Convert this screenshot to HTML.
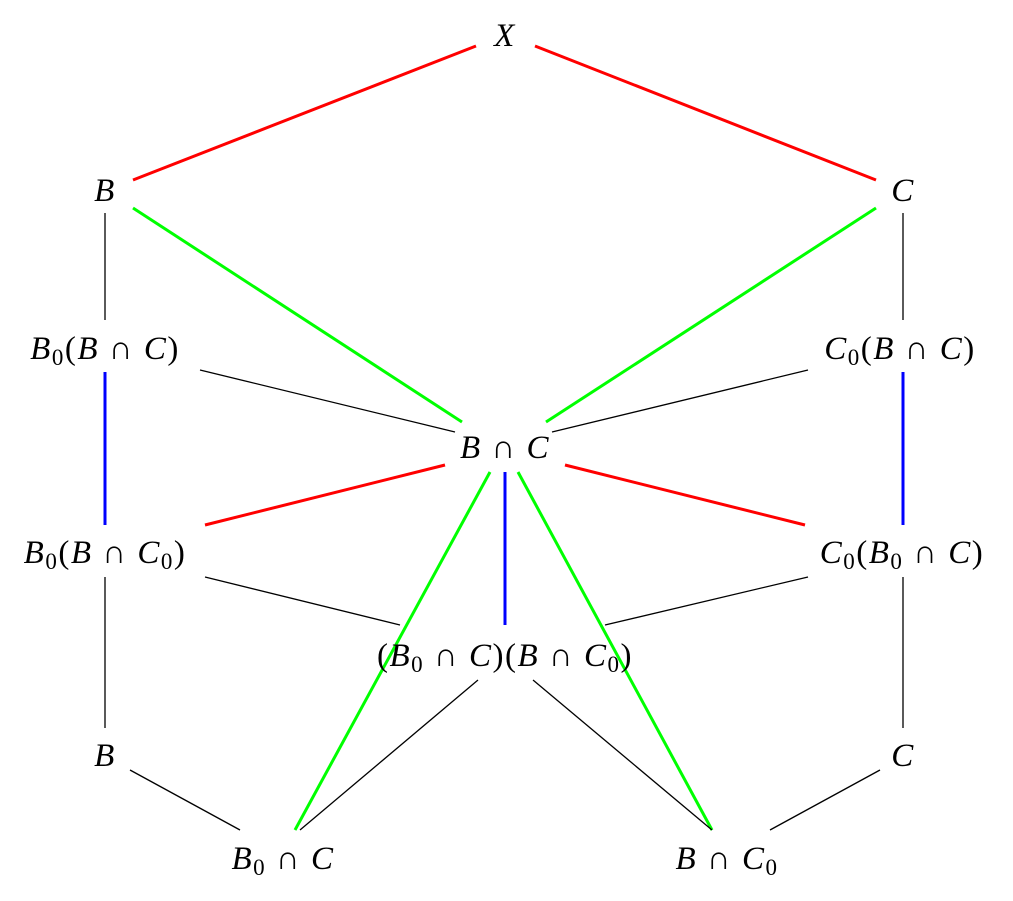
<!DOCTYPE html>
<html><head><meta charset="utf-8">
<style>
html,body{margin:0;padding:0;background:#fff;}
svg{display:block;}
text{font-family:"Liberation Serif","DejaVu Serif",serif;font-size:33px;fill:#000;letter-spacing:1.5px;}
.i{font-style:italic;}
.s{font-size:23px;}
</style></head>
<body>
<svg width="1013" height="901" viewBox="0 0 1013 901">
<g fill="none" stroke-linecap="butt">
  <line x1="476" y1="46" x2="133" y2="180" stroke="#f00" stroke-width="3"/>
  <line x1="535" y1="46" x2="876" y2="180" stroke="#f00" stroke-width="3"/>
  <line x1="133" y1="208" x2="462" y2="422" stroke="#0f0" stroke-width="3"/>
  <line x1="876" y1="208" x2="546" y2="422" stroke="#0f0" stroke-width="3"/>
  <line x1="105" y1="213" x2="105" y2="320" stroke="#000" stroke-width="1.3"/>
  <line x1="903" y1="213" x2="903" y2="320" stroke="#000" stroke-width="1.3"/>
  <line x1="200" y1="370" x2="455" y2="432" stroke="#000" stroke-width="1.3"/>
  <line x1="808" y1="370" x2="552" y2="432" stroke="#000" stroke-width="1.3"/>
  <line x1="105" y1="372" x2="105" y2="525" stroke="#00f" stroke-width="3"/>
  <line x1="903" y1="372" x2="903" y2="525" stroke="#00f" stroke-width="3"/>
  <line x1="445" y1="465" x2="205" y2="525" stroke="#f00" stroke-width="3"/>
  <line x1="565" y1="465" x2="805" y2="525" stroke="#f00" stroke-width="3"/>
  <line x1="490" y1="472" x2="295" y2="830" stroke="#0f0" stroke-width="3"/>
  <line x1="518" y1="472" x2="712" y2="830" stroke="#0f0" stroke-width="3"/>
  <line x1="505" y1="472" x2="505" y2="625" stroke="#00f" stroke-width="3"/>
  <line x1="205" y1="577" x2="400" y2="625" stroke="#000" stroke-width="1.3"/>
  <line x1="808" y1="577" x2="605" y2="625" stroke="#000" stroke-width="1.3"/>
  <line x1="105" y1="577" x2="105" y2="728" stroke="#000" stroke-width="1.3"/>
  <line x1="903" y1="577" x2="903" y2="728" stroke="#000" stroke-width="1.3"/>
  <line x1="478" y1="680" x2="300" y2="830" stroke="#000" stroke-width="1.3"/>
  <line x1="533" y1="680" x2="712" y2="830" stroke="#000" stroke-width="1.3"/>
  <line x1="130" y1="770" x2="240" y2="830" stroke="#000" stroke-width="1.3"/>
  <line x1="880" y1="770" x2="770" y2="830" stroke="#000" stroke-width="1.3"/>
</g>
<g text-anchor="middle">
  <text x="505" y="46" class="i">X</text>
  <text x="105" y="201" class="i">B</text>
  <text x="903" y="201" class="i">C</text>
  <text x="105" y="359"><tspan class="i">B</tspan><tspan class="s" dy="6">0</tspan><tspan dy="-6">(</tspan><tspan class="i">B</tspan> ∩ <tspan class="i">C</tspan>)</text>
  <text x="900" y="359"><tspan class="i">C</tspan><tspan class="s" dy="6">0</tspan><tspan dy="-6">(</tspan><tspan class="i">B</tspan> ∩ <tspan class="i">C</tspan>)</text>
  <text x="505" y="458"><tspan class="i">B</tspan> ∩ <tspan class="i">C</tspan></text>
  <text x="105" y="563"><tspan class="i">B</tspan><tspan class="s" dy="6">0</tspan><tspan dy="-6">(</tspan><tspan class="i">B</tspan> ∩ <tspan class="i">C</tspan><tspan class="s" dy="6">0</tspan><tspan dy="-6">)</tspan></text>
  <text x="902" y="563"><tspan class="i">C</tspan><tspan class="s" dy="6">0</tspan><tspan dy="-6">(</tspan><tspan class="i">B</tspan><tspan class="s" dy="6">0</tspan><tspan dy="-6"> ∩ </tspan><tspan class="i">C</tspan>)</text>
  <text x="505" y="666">(<tspan class="i">B</tspan><tspan class="s" dy="6">0</tspan><tspan dy="-6"> ∩ </tspan><tspan class="i">C</tspan>)(<tspan class="i">B</tspan> ∩ <tspan class="i">C</tspan><tspan class="s" dy="6">0</tspan><tspan dy="-6">)</tspan></text>
  <text x="105" y="766" class="i">B</text>
  <text x="903" y="766" class="i">C</text>
  <text x="283" y="869"><tspan class="i">B</tspan><tspan class="s" dy="6">0</tspan><tspan dy="-6"> ∩ </tspan><tspan class="i">C</tspan></text>
  <text x="727" y="869"><tspan class="i">B</tspan> ∩ <tspan class="i">C</tspan><tspan class="s" dy="6">0</tspan></text>
</g>
</svg>
</body></html>
